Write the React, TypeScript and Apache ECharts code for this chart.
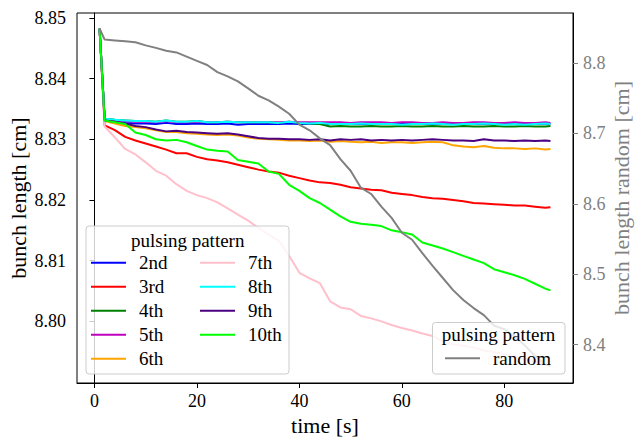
import React, { useEffect, useRef } from "react";
import * as echarts from "echarts";

const FONT = "Liberation Serif";

const times = [1, 2, 4, 6, 8, 10, 12, 14, 16, 18, 20, 22, 24, 26, 28, 30, 32, 34, 36, 38, 40, 42, 44, 46, 48, 50, 52, 54, 56, 58, 60, 62, 64, 66, 68, 70, 72, 74, 76, 78, 80, 82, 84, 86, 88, 89];

const s2nd = [8.8482, 8.8333, 8.8329, 8.8327, 8.8326, 8.8326, 8.8325, 8.8327, 8.8325, 8.8325, 8.8326, 8.8325, 8.8325, 8.8326, 8.8324, 8.8325, 8.8325, 8.8325, 8.8325, 8.8326, 8.8325, 8.8325, 8.8325, 8.8325, 8.8325, 8.8326, 8.8325, 8.8325, 8.8326, 8.8325, 8.8325, 8.8326, 8.8325, 8.8326, 8.8325, 8.8325, 8.8326, 8.8325, 8.8326, 8.8325, 8.8325, 8.8326, 8.8325, 8.8325, 8.8326, 8.8325];
const s3rd = [8.8482, 8.8323, 8.8315, 8.8304, 8.8298, 8.8293, 8.8288, 8.8283, 8.8277, 8.8277, 8.8271, 8.8267, 8.8265, 8.8262, 8.8258, 8.8254, 8.825, 8.8247, 8.8245, 8.824, 8.8236, 8.8232, 8.8229, 8.8228, 8.8225, 8.8221, 8.8219, 8.8217, 8.8216, 8.8212, 8.821, 8.8208, 8.8205, 8.8203, 8.8202, 8.82, 8.8198, 8.8195, 8.8194, 8.8193, 8.8192, 8.8191, 8.8191, 8.8189, 8.8187, 8.8188];
const s4th = [8.8482, 8.8334, 8.8332, 8.8331, 8.833, 8.833, 8.8329, 8.8331, 8.8329, 8.8329, 8.833, 8.8328, 8.8328, 8.8329, 8.8328, 8.8328, 8.8328, 8.8328, 8.8327, 8.8329, 8.8327, 8.8326, 8.8325, 8.8321, 8.8322, 8.8321, 8.8321, 8.8322, 8.8321, 8.8321, 8.8322, 8.8321, 8.8321, 8.8322, 8.8321, 8.8321, 8.8322, 8.8321, 8.8321, 8.8322, 8.8321, 8.8321, 8.8322, 8.8321, 8.8321, 8.8322];
const s5th = [8.8482, 8.8334, 8.8331, 8.833, 8.8329, 8.8329, 8.8328, 8.833, 8.8328, 8.8328, 8.8329, 8.8328, 8.8328, 8.8329, 8.8328, 8.8328, 8.8328, 8.8328, 8.8328, 8.8329, 8.8328, 8.8328, 8.8328, 8.8328, 8.8328, 8.8327, 8.8328, 8.8328, 8.8328, 8.8327, 8.8328, 8.8328, 8.8327, 8.8327, 8.8328, 8.8327, 8.8327, 8.8328, 8.8328, 8.8327, 8.8327, 8.8328, 8.8327, 8.8327, 8.8328, 8.8327];
const s6th = [8.8482, 8.833, 8.8326, 8.8322, 8.832, 8.8318, 8.8315, 8.8312, 8.8312, 8.831, 8.8309, 8.8308, 8.8307, 8.8308, 8.8306, 8.8303, 8.8301, 8.83, 8.8299, 8.8298, 8.8298, 8.8297, 8.8298, 8.8296, 8.8297, 8.8296, 8.8295, 8.8296, 8.8294, 8.8295, 8.8295, 8.8294, 8.8295, 8.8296, 8.8295, 8.829, 8.8288, 8.8287, 8.8289, 8.8286, 8.8285, 8.8285, 8.8284, 8.8285, 8.8283, 8.8284];
const s7th = [8.8482, 8.8321, 8.8303, 8.8284, 8.8275, 8.8262, 8.8248, 8.824, 8.8226, 8.8215, 8.8208, 8.8203, 8.8196, 8.8186, 8.8176, 8.8166, 8.8154, 8.8143, 8.8133, 8.8108, 8.808, 8.8071, 8.8063, 8.8033, 8.8023, 8.802, 8.8009, 8.8005, 8.8, 8.7994, 8.7989, 8.7985, 8.798, 8.7976, 8.7967, 8.7962, 8.796, 8.7957, 8.7952, 8.7949, 8.7946, 8.7943, 8.7938, 8.7934, 8.7929, 8.7927];
const s8th = [8.8482, 8.8334, 8.8332, 8.8331, 8.833, 8.833, 8.8329, 8.8331, 8.8329, 8.8329, 8.833, 8.8328, 8.8328, 8.8329, 8.8328, 8.8328, 8.8328, 8.8328, 8.8327, 8.8329, 8.8327, 8.8326, 8.8327, 8.8325, 8.8325, 8.8325, 8.8326, 8.8325, 8.8325, 8.8325, 8.8324, 8.8325, 8.8325, 8.8326, 8.8325, 8.8324, 8.8325, 8.8325, 8.8326, 8.8325, 8.8324, 8.8325, 8.8324, 8.8325, 8.8326, 8.8325];
const s9th = [8.8482, 8.8331, 8.8329, 8.8326, 8.8322, 8.832, 8.8316, 8.8313, 8.8314, 8.8312, 8.8311, 8.831, 8.8309, 8.831, 8.8308, 8.8305, 8.8302, 8.8301, 8.8301, 8.83, 8.83, 8.8299, 8.83, 8.8298, 8.83, 8.8299, 8.83, 8.8298, 8.8299, 8.8298, 8.8299, 8.8298, 8.8299, 8.83, 8.8299, 8.8298, 8.8298, 8.8297, 8.83, 8.8298, 8.8298, 8.8297, 8.8298, 8.8297, 8.8298, 8.8297];
const s10th = [8.8482, 8.8331, 8.8328, 8.8325, 8.8311, 8.8307, 8.83, 8.8298, 8.8299, 8.8295, 8.8289, 8.8283, 8.8281, 8.828, 8.8266, 8.8263, 8.826, 8.8247, 8.8243, 8.8225, 8.8215, 8.8203, 8.8195, 8.8184, 8.8173, 8.8164, 8.8161, 8.8159, 8.8157, 8.815, 8.8147, 8.8143, 8.813, 8.8125, 8.812, 8.8114, 8.8108, 8.8102, 8.8096, 8.8086, 8.8081, 8.8076, 8.807, 8.8062, 8.8054, 8.8051];
const sRandom = [8.849, 8.8332, 8.832, 8.8308, 8.8295, 8.825, 8.8215, 8.8175, 8.815, 8.809, 8.803, 8.7972, 8.787, 8.781, 8.774, 8.764, 8.7535, 8.747, 8.738, 8.728, 8.7125, 8.7045, 8.693, 8.6835, 8.6635, 8.647, 8.623, 8.614, 8.596, 8.58, 8.559, 8.549, 8.53, 8.512, 8.4947, 8.4775, 8.4635, 8.452, 8.442, 8.427, 8.422, 8.412, 8.399, 8.384, 8.372, 8.37];

const leftNames = ["2nd", "3rd", "4th", "5th", "6th", "7th", "8th", "9th", "10th"];
const leftValues = [s2nd, s3rd, s4th, s5th, s6th, s7th, s8th, s9th, s10th];
const leftColors = ["#0000ff", "#ff0000", "#008000", "#bf00bf", "#ffa500", "#ffc0cb", "#00ffff", "#4b0082", "#00ff00"];

const xTicks = [0, 20, 40, 60, 80];
const leftTicks = [8.8, 8.81, 8.82, 8.83, 8.84, 8.85];
const rightTicks = [8.4, 8.5, 8.6, 8.7, 8.8];

export default function App() {
  const ref = useRef<HTMLDivElement>(null);
  useEffect(() => {
    if (!ref.current) return;
    const chart = echarts.init(ref.current, null, { renderer: "svg" });
    const series: any[] = leftNames.map((name, k) => ({
      name,
      type: "line",
      yAxisIndex: 0,
      symbol: "none",
      showSymbol: false,
      color: leftColors[k],
      lineStyle: { width: 2, color: leftColors[k] },
      data: times.map((t, i) => [t, leftValues[k][i]]),
      z: 2,
    }));
    series.push({
      name: "random",
      type: "line",
      yAxisIndex: 1,
      symbol: "none",
      showSymbol: false,
      color: "#808080",
      lineStyle: { width: 2, color: "#808080" },
      data: times.map((t, i) => [t, sRandom[i]]),
      z: 3,
    });
    const legendBase = {
      orient: "vertical",
      itemWidth: 35,
      itemHeight: 2,
      itemGap: 0,
      icon: "rect",
      padding: 0,
      selectedMode: false,
      z: 200,
      textStyle: { fontSize: 19, fontFamily: FONT, color: "#000", lineHeight: 24, padding: [0, 0, 0, 8] },
    };
    const tickLabel = { fontSize: 18, fontFamily: FONT, fontWeight: "normal" };
    chart.setOption({
      animation: false,
      backgroundColor: "#ffffff",
      textStyle: { fontFamily: FONT, fontSize: 18 },
      grid: { left: 77, top: 13, width: 496, height: 370, show: true, borderColor: "#000", borderWidth: 1, backgroundColor: "transparent" },
      xAxis: {
        type: "value",
        min: -3.4,
        max: 93.4,
        splitLine: { show: false },
        axisLine: { show: true, lineStyle: { color: "#000", width: 1 } },
        axisTick: { show: true, inside: false, length: 5, customValues: xTicks, lineStyle: { color: "#000" } },
        axisLabel: { customValues: xTicks, ...tickLabel, color: "#000", margin: 9 },
      },
      yAxis: [
        {
          type: "value",
          min: 8.78985,
          max: 8.8508,
          splitLine: { show: false },
          axisLine: { show: true, lineStyle: { color: "#000", width: 1 } },
          axisTick: { show: true, inside: false, length: 5, customValues: leftTicks, lineStyle: { color: "#000" } },
          axisLabel: { customValues: leftTicks, ...tickLabel, color: "#000", margin: 11, formatter: (v: number) => v.toFixed(2) },
        },
        {
          type: "value",
          position: "right",
          min: 8.3456,
          max: 8.871,
          splitLine: { show: false },
          axisLine: { show: true, lineStyle: { color: "#000", width: 1 } },
          axisTick: { show: true, inside: false, length: 5, customValues: rightTicks, lineStyle: { color: "#808080" } },
          axisLabel: { customValues: rightTicks, ...tickLabel, color: "#808080", margin: 10, formatter: (v: number) => v.toFixed(1) },
        },
      ],
      legend: [
        { ...legendBase, data: ["2nd", "3rd", "4th", "5th", "6th"], left: 91, top: 250.7 },
        { ...legendBase, data: ["7th", "8th", "9th", "10th"], left: 200, top: 250.7 },
        { ...legendBase, data: ["random"], left: 445, top: 346.3 },
      ],
      graphic: [
        { type: "rect", z: 100, shape: { x: 86, y: 226, width: 203, height: 148, r: 3 }, style: { fill: "rgba(255,255,255,0.8)", stroke: "#cccccc", lineWidth: 1 } },
        { type: "rect", z: 100, shape: { x: 432.5, y: 322.5, width: 132.5, height: 51.5, r: 3 }, style: { fill: "rgba(255,255,255,0.8)", stroke: "#cccccc", lineWidth: 1 } },
        { type: "text", z: 101, x: 187.7, y: 240, style: { text: "pulsing pattern", fontSize: 19, fontFamily: FONT, fill: "#000", align: "center", verticalAlign: "middle" } },
        { type: "text", z: 101, x: 498.5, y: 334.7, style: { text: "pulsing pattern", fontSize: 19, fontFamily: FONT, fill: "#000", align: "center", verticalAlign: "middle" } },
        { type: "text", z: 101, x: 18, y: 198, rotation: Math.PI / 2, style: { text: "bunch length [cm]", fontSize: 22, fontFamily: FONT, fill: "#000", align: "center", verticalAlign: "middle" } },
        { type: "text", z: 101, x: 621, y: 198, rotation: Math.PI / 2, style: { text: "bunch length random [cm]", fontSize: 22, fontFamily: FONT, fill: "#808080", align: "center", verticalAlign: "middle" } },
        { type: "text", z: 101, x: 325, y: 425, style: { text: "time [s]", fontSize: 22, fontFamily: FONT, fill: "#000", align: "center", verticalAlign: "middle" } },
      ],
      series,
    });
    return () => chart.dispose();
  }, []);
  return <div ref={ref} style={{ position: "absolute", left: 0, top: 0, width: 640, height: 444 }} />;
}
